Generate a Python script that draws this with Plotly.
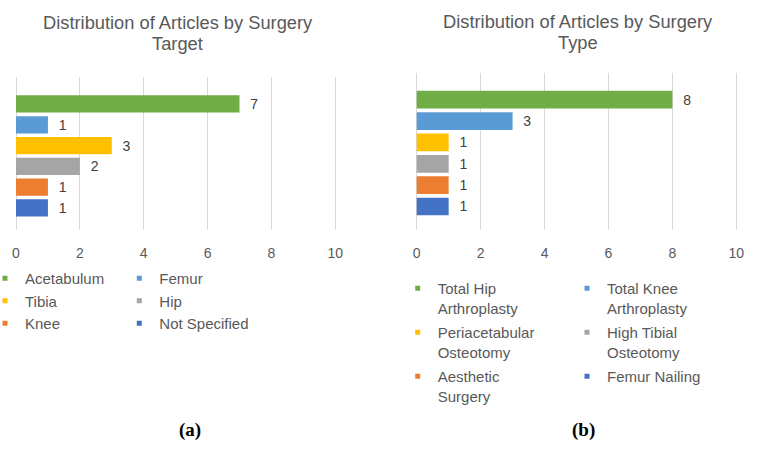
import plotly.graph_objects as go

W, H = 757, 450

# ---- data ----
target_names = ["Acetabulum", "Femur", "Tibia", "Hip", "Knee", "Not Specified"]
target_counts = [7, 1, 3, 2, 1, 1]
type_names = ["Total Hip<br>Arthroplasty", "Total Knee<br>Arthroplasty",
              "Periacetabular<br>Osteotomy", "High Tibial<br>Osteotomy",
              "Aesthetic<br>Surgery", "Femur Nailing"]
type_counts = [8, 3, 1, 1, 1, 1]
series_colors = ["#70AD47", "#5B9BD5", "#FFC000", "#A5A5A5", "#ED7D31", "#4472C4"]
x_ticks = [0, 2, 4, 6, 8, 10]
title_a = ["Distribution of Articles by Surgery", "Target"]
title_b = ["Distribution of Articles by Surgery", "Type"]
captions = ["(a)", "(b)"]
category = ["Articles"]

FONT = "Liberation Sans, Arial, sans-serif"
TXT = "#595959"
GRID = "#D9D9D9"
INDENT = -15


def px_x(p):
    return p / W


def px_y(p):
    return 1 - p / H


fig = go.Figure()


def add_series(names, counts, xa, ya, legends, prefix):
    for i, (name, val) in enumerate(zip(names, counts)):
        fig.add_trace(go.Bar(
            x=[val], y=category, orientation="h", name=name,
            marker=dict(color=series_colors[i], line=dict(width=0)),
            texttemplate="\u00a0\u00a0%{x}", textposition="outside",
            textfont=dict(size=14, color="#404040", family=FONT),
            cliponaxis=False, xaxis=xa, yaxis=ya,
            legendgroup="%s%d" % (prefix, i), showlegend=False,
            hoverinfo="x+name",
        ))
    # small square legend keys (no data drawn)
    for i, name in enumerate(names):
        fig.add_trace(go.Scatter(
            x=[None], y=[None], mode="markers", name=name,
            marker=dict(symbol="square", size=5, color=series_colors[i]),
            xaxis=xa, yaxis=ya, legend=legends[i % 2],
            legendgroup="%s%d" % (prefix, i), showlegend=True,
            hoverinfo="skip",
        ))


add_series(target_names, target_counts, "x", "y", ["legend", "legend2"], "a")
add_series(type_names, type_counts, "x2", "y2", ["legend3", "legend4"], "b")

pad = 0.06


def xaxis_cfg(x0, x1, anchor):
    scale = (x1 - x0) / 10.0
    return dict(
        domain=[px_x(x0 - pad * scale), px_x(x1 + pad * scale)],
        range=[-pad, 10 + pad], tickvals=x_ticks, showgrid=True,
        gridcolor=GRID, gridwidth=1, zeroline=False, showline=False,
        ticks="", tickfont=dict(size=14, color=TXT, family=FONT),
        ticklabelstandoff=13, anchor=anchor, fixedrange=True,
    )


def yaxis_cfg(top, bottom, anchor, shift):
    return dict(
        domain=[px_y(bottom), px_y(top)], type="category",
        range=[0.5 - shift, -0.5 - shift], showticklabels=False,
        showgrid=False, zeroline=False, showline=False, ticks="",
        anchor=anchor, fixedrange=True,
    )


def legend_cfg(text_x, top_y, gap=0, valign="middle"):
    return dict(
        xref="container", yref="container",
        x=max(0.0, (text_x - 40 - INDENT) / W), y=1 - top_y / H,
        xanchor="left", yanchor="top", orientation="v",
        font=dict(size=15, color=TXT, family=FONT),
        bgcolor="rgba(0,0,0,0)", tracegroupgap=gap, valign=valign,
        indentation=INDENT,
        itemclick=False, itemdoubleclick=False,
    )


annotations = []
for (cx, lines, ys) in [(177.5, title_a, (22.7, 43.3)), (578.3, title_b, (21.7, 42.3))]:
    for txt, yy in zip(lines, ys):
        annotations.append(dict(
            text=txt, xref="paper", yref="paper", x=px_x(cx), y=px_y(yy),
            xanchor="center", yanchor="middle", showarrow=False,
            font=dict(size=18.3, color=TXT, family=FONT),
        ))
for cap, cx in zip(captions, [190, 583]):
    annotations.append(dict(
        text="<b>%s</b>" % cap, xref="paper", yref="paper",
        x=px_x(cx), y=px_y(430), xanchor="center", yanchor="middle",
        showarrow=False,
        font=dict(size=19, color="#000000", family="Liberation Serif, serif"),
    ))

fig.update_layout(
    width=W, height=H,
    margin=dict(l=0, r=0, t=0, b=0, autoexpand=False),
    paper_bgcolor="white", plot_bgcolor="white",
    barmode="group", bargap=0.185, bargroupgap=0.17,
    xaxis=xaxis_cfg(16.0, 335.3, "y"),
    yaxis=yaxis_cfg(77, 230, "x", 0.016),
    xaxis2=xaxis_cfg(416.7, 736.3, "y2"),
    yaxis2=yaxis_cfg(72.7, 230, "x2", 0.011),
    legend=legend_cfg(23.3, 262),
    legend2=legend_cfg(159.3, 262),
    legend3=legend_cfg(437.7, 272, gap=2, valign="top"),
    legend4=legend_cfg(607.0, 272, gap=2, valign="top"),
    annotations=annotations,
    font=dict(family=FONT, color=TXT),
    showlegend=True,
)

fig.write_html("out.html", config={"displayModeBar": False},
               post_script="document.body.style.margin='0';")
